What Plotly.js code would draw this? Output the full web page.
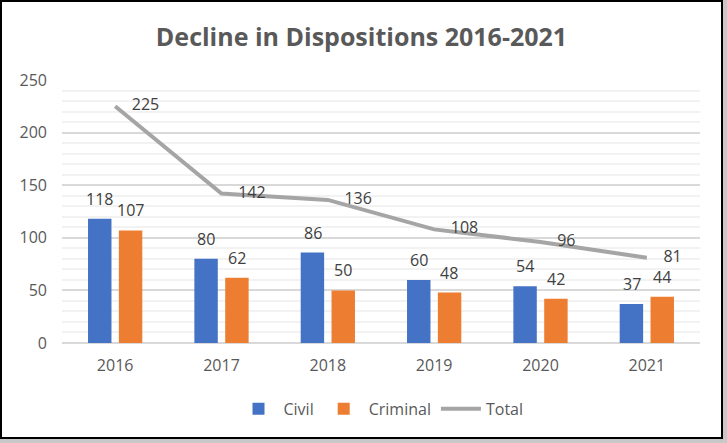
<!DOCTYPE html>
<html><head><meta charset="utf-8">
<script src="https://cdn.plot.ly/plotly-3.0.1.min.js"></script>
<style>
html,body{margin:0;padding:0;background:#fff;}
#wrap{position:relative;width:727px;height:443px;background:#c8c8c8;}
#chart{position:absolute;left:0;top:0;width:723px;height:439px;}
#frame{position:absolute;left:0;top:0;width:723px;height:439px;box-sizing:border-box;border:2px solid #000;pointer-events:none;}
</style></head>
<body>
<div id="wrap"><div id="chart"></div><div id="frame"></div></div>
<script>
const years = ['2016','2017','2018','2019','2020','2021'];
const civil = [118, 80, 86, 60, 54, 37];
const criminal = [107, 62, 50, 48, 42, 44];
const total = [225, 142, 136, 108, 96, 81];

const font = '"Open Sans", sans-serif';
const lab = {size:16,color:'#404040',family:font};
const traces = [
  {type:'bar', name:'Civil', x:years, y:civil, marker:{color:'#4472C4'}},
  {type:'bar', name:'Criminal', x:years, y:criminal, marker:{color:'#ED7D31'}},
  {type:'scatter', mode:'lines+text', name:'Total', x:years, y:total,
   line:{color:'#A5A5A5',width:4}, text:total.map(v=>'    '+v), textposition:'middle right',
   cliponaxis:false, textfont:lab}
];
const annotations = [];
years.forEach((yr,i)=>{
  annotations.push({x:i, y:civil[i], xref:'x', yref:'y', text:String(civil[i]), showarrow:false,
    xshift:-15.3, yshift:20, yanchor:'middle', font:lab});
  annotations.push({x:i, y:criminal[i], xref:'x', yref:'y', text:String(criminal[i]), showarrow:false,
    xshift:15.3, yshift:20, yanchor:'middle', font:lab});
});
const layout = {
  width:723, height:439,
  margin:{l:62,r:23,t:80,b:96},
  paper_bgcolor:'#fff', plot_bgcolor:'#fff',
  font:{family:font,color:'#595959',size:16},
  title:{text:'<b>Decline in Dispositions 2016-2021</b>', x:0.5, xanchor:'center', y:0.915, yanchor:'middle',
         font:{size:25,color:'#595959',family:font}},
  barmode:'group', bargap:0.42, bargroupgap:0.24,
  xaxis:{type:'category', showgrid:false, zeroline:false, showline:false, ticks:'', ticklabelstandoff:11,
         tickfont:{size:16,color:'#595959'}},
  yaxis:{range:[0,250], dtick:50, showline:false, zeroline:true, zerolinecolor:'#D9D9D9', zerolinewidth:2,
         gridcolor:'#D9D9D9', gridwidth:2, ticks:'', ticklabelstandoff:14,
         tickfont:{size:16,color:'#595959'},
         minor:{dtick:10, showgrid:true, gridcolor:'#F2F2F2', gridwidth:2}},
  annotations: annotations,
  showlegend:true,
  legend:{orientation:'h', x:0.5, xanchor:'center', y:-0.25, yanchor:'middle',
          font:{size:16,color:'#595959'}, traceorder:'normal', itemwidth:40}
};
Plotly.newPlot('chart', traces, layout, {displayModeBar:false, staticPlot:true});
</script>
</body></html>
